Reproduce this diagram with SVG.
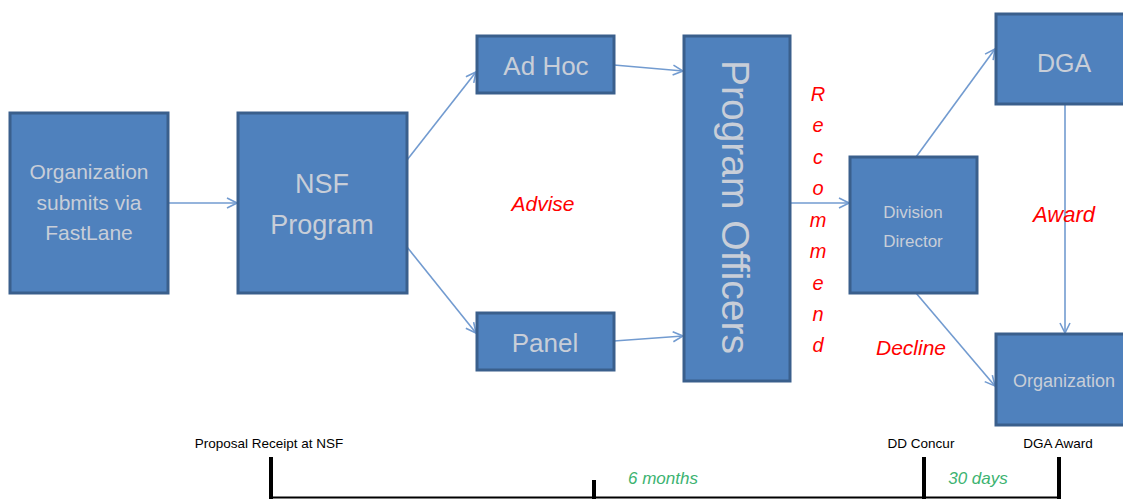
<svg xmlns="http://www.w3.org/2000/svg" width="1123" height="499" viewBox="0 0 1123 499">
<defs>
<style>
.box{fill:#4f81bd;stroke:#3a5f8c;stroke-width:3}
.bt{fill:#c8ced8;font-family:"Liberation Sans",Arial,sans-serif;text-anchor:middle}
.conn{stroke:#729bd0;stroke-width:1.6;fill:none;marker-end:url(#ah)}
.red{fill:#ff0000;font-family:"Liberation Sans",Arial,sans-serif;font-style:italic;text-anchor:middle}
.grn{fill:#3cb371;font-family:"Liberation Sans",Arial,sans-serif;font-style:italic;text-anchor:middle;font-size:17px}
.tl{fill:#000;font-family:"Liberation Sans",Arial,sans-serif;text-anchor:middle;font-size:13.5px}
.tick{stroke:#000;stroke-width:4;fill:none}
</style>
<marker id="ah" viewBox="0 0 12 12" refX="11" refY="6" markerWidth="12" markerHeight="12" markerUnits="userSpaceOnUse" orient="auto">
<path d="M1,1 L11,6 L1,11" fill="none" stroke="#729bd0" stroke-width="1.6"/>
</marker>
</defs>
<rect width="1123" height="499" fill="#ffffff"/>
<g id="connectors">
<line class="conn" x1="168" y1="203" x2="237" y2="203"/>
<line class="conn" x1="407" y1="160" x2="476" y2="72"/>
<line class="conn" x1="407" y1="247" x2="476" y2="333"/>
<line class="conn" x1="614" y1="65" x2="683" y2="71"/>
<line class="conn" x1="614" y1="341" x2="683" y2="336"/>
<line class="conn" x1="790" y1="203" x2="849" y2="203"/>
<line class="conn" x1="916" y1="157" x2="995" y2="49"/>
<line class="conn" x1="916" y1="293" x2="995" y2="386"/>
<line class="conn" x1="1065" y1="104" x2="1065" y2="333"/>
</g>
<g id="n-org-submit">
<rect class="box" x="10" y="113" width="158" height="180"/>
<text class="bt" font-size="21" x="89" y="179">Organization</text>
<text class="bt" font-size="21" x="89" y="210">submits via</text>
<text class="bt" font-size="21" x="89" y="240">FastLane</text>
</g>
<g id="n-nsf">
<rect class="box" x="238" y="113" width="169" height="180"/>
<text class="bt" font-size="27" x="322" y="193">NSF</text>
<text class="bt" font-size="27" x="322" y="234">Program</text>
</g>
<g id="n-adhoc">
<rect class="box" x="477" y="36" width="137" height="57"/>
<text class="bt" font-size="26" x="546" y="75">Ad Hoc</text>
</g>
<g id="n-panel">
<rect class="box" x="477" y="313" width="137" height="57"/>
<text class="bt" font-size="26" x="545" y="352">Panel</text>
</g>
<g id="n-po">
<rect class="box" x="684" y="36" width="106" height="345"/>
<text class="bt" font-size="39" transform="translate(722,207) rotate(90)">Program Officers</text>
</g>
<g id="n-dd">
<rect class="box" x="850" y="157" width="127" height="136"/>
<text class="bt" font-size="17" x="913" y="218">Division</text>
<text class="bt" font-size="17" x="913" y="247">Director</text>
</g>
<g id="n-dga">
<rect class="box" x="996" y="14" width="136" height="90"/>
<text class="bt" font-size="25" x="1064" y="72">DGA</text>
</g>
<g id="n-org">
<rect class="box" x="996" y="334" width="136" height="91"/>
<text class="bt" font-size="18" x="1064" y="387">Organization</text>
</g>
<g id="labels">
<text class="red" font-size="21" x="543" y="211">Advise</text>
<text class="red" font-size="20" x="818" y="101">R</text>
<text class="red" font-size="20" x="818" y="132">e</text>
<text class="red" font-size="20" x="818" y="164">c</text>
<text class="red" font-size="20" x="818" y="195">o</text>
<text class="red" font-size="20" x="818" y="227">m</text>
<text class="red" font-size="20" x="818" y="258">m</text>
<text class="red" font-size="20" x="818" y="290">e</text>
<text class="red" font-size="20" x="818" y="321">n</text>
<text class="red" font-size="20" x="818" y="352">d</text>
<text class="red" font-size="22" x="1064" y="222">Award</text>
<text class="red" font-size="21" x="911" y="355">Decline</text>
</g>
<g id="timeline">
<path class="tick" d="M271,457 V499 M594,480 V499 M924,457 V499 M1059,457 V499"/>
<line x1="269" y1="497.5" x2="1061" y2="497.5" stroke="#000" stroke-width="2"/>
<text class="tl" x="269" y="448">Proposal Receipt at NSF</text>
<text class="tl" x="921" y="448">DD Concur</text>
<text class="tl" x="1058" y="448">DGA Award</text>
<text class="grn" x="663" y="484">6 months</text>
<text class="grn" x="978" y="484">30 days</text>
</g>
</svg>
